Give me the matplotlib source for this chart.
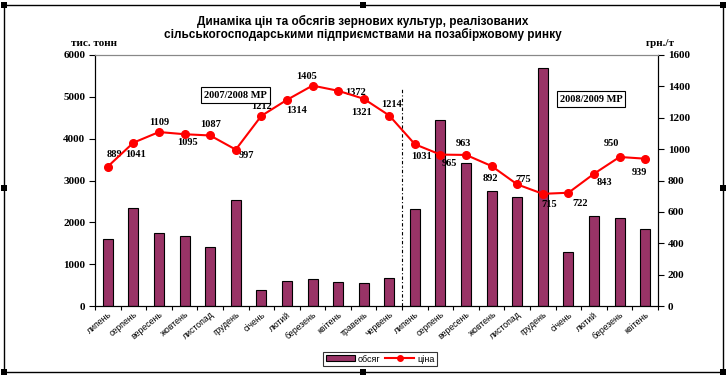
import numpy as np
import matplotlib.pyplot as plt
from matplotlib.lines import Line2D
from matplotlib.patches import Rectangle, Patch

months = ['липень', 'серпень', 'вересень', 'жовтень', 'листопад', 'грудень',
          'січень', 'лютий', 'березень', 'квітень', 'травень', 'червень',
          'липень', 'серпень', 'вересень', 'жовтень', 'листопад', 'грудень',
          'січень', 'лютий', 'березень', 'квітень']
volume = [1600, 2340, 1740, 1670, 1410, 2530, 380, 600, 650, 570, 550, 670,
          2330, 4450, 3420, 2760, 2600, 5700, 1300, 2150, 2100, 1840]
price = [889, 1041, 1109, 1095, 1087, 997, 1212, 1314, 1405, 1372, 1321, 1214,
         1031, 965, 963, 892, 775, 715, 722, 843, 950, 939]

# label offsets in pixels (dx, dy; dy positive = down)
offs = [(7, -12), (2, 12), (0, -10), (3, 8), (0, -11), (11, 6), (0, -9), (10, 11),
        (-6, -9), (17, 2), (-2, 14), (2, -11), (7, 12), (9, 9), (-3, -11), (-1, 12),
        (6, -5), (6, 11), (12, 11), (10, 9), (-8, -13), (-6, 14)]

W, H = 727, 376
serif = 'Liberation Serif'
sans = 'Liberation Sans'

fig = plt.figure(figsize=(W / 100, H / 100), dpi=100)
L, R, T, B = 95, 658, 55, 306
ax = fig.add_axes([L / W, 1 - B / H, (R - L) / W, (B - T) / H])
ax2 = ax.twinx()

x = np.arange(len(months))
ax.bar(x, volume, width=0.39, color='#993366', edgecolor='black', linewidth=0.8, zorder=2)
ax.set_xlim(-0.5, len(months) - 0.5)
ax.set_ylim(0, 6000)
ax.set_yticks(range(0, 6001, 1000))
ax.set_xticks(x)
ax.set_xticklabels(months, rotation=40, ha='right', va='top', rotation_mode='anchor',
                   fontsize=6.3, family=sans)
ax.set_xticks(np.arange(-0.5, len(months), 1), minor=True)
ax.tick_params(axis='x', which='major', length=0, pad=3)
ax.tick_params(axis='x', which='minor', length=3, width=0.8, direction='out')
ax.tick_params(axis='y', length=4, width=0.8, pad=3)
for lab in ax.get_yticklabels():
    lab.set_family(serif)
    lab.set_fontweight('bold')
    lab.set_fontsize(8)

ax.plot([11.5, 11.5], [0, 5200], color='black', lw=0.8, ls=(0, (3, 2, 1, 2)), zorder=3)

ax2.plot(x, price, color='red', lw=1.5, marker='o', markersize=5.5, zorder=4)
ax2.set_ylim(0, 1600)
ax2.set_yticks(range(0, 1601, 200))
ax2.tick_params(axis='y', length=4, width=0.8, pad=3)
for lab in ax2.get_yticklabels():
    lab.set_family(serif)
    lab.set_fontweight('bold')
    lab.set_fontsize(8)

for i, v in enumerate(price):
    dx, dy = offs[i]
    ax2.annotate(str(v), (i, v), xytext=(dx * 0.72, -dy * 0.72), textcoords='offset points',
                 ha='center', va='center', fontsize=7.5, family=serif, fontweight='bold')

for a in (ax, ax2):
    a.spines['top'].set_color('#888888')
    a.spines['left'].set_linewidth(0.8)
    a.spines['right'].set_linewidth(0.8)
    a.spines['bottom'].set_linewidth(0.8)

def fx(px):
    return px / W

def fy(py):
    return 1 - py / H

fig.text(fx(363), fy(21), 'Динаміка цін та обсягів зернових культур, реалізованих',
         ha='center', va='center', fontsize=8.5, family=sans, fontweight='bold')
fig.text(fx(363), fy(34), 'сільськогосподарськими підприємствами на позабіржовому ринку',
         ha='center', va='center', fontsize=8.5, family=sans, fontweight='bold')
fig.text(fx(94), fy(43), 'тис. тонн', ha='center', va='center', fontsize=8,
         family=serif, fontweight='bold')
fig.text(fx(660), fy(43), 'грн./т', ha='center', va='center', fontsize=8,
         family=serif, fontweight='bold')

box = dict(boxstyle='square,pad=0.3', fc='white', ec='black', lw=0.8)
fig.text(fx(235), fy(95), '2007/2008 МР', ha='center', va='center', fontsize=7.5,
         family=serif, fontweight='bold', bbox=box)
fig.text(fx(591), fy(99), '2008/2009 МР', ha='center', va='center', fontsize=7.5,
         family=serif, fontweight='bold', bbox=box)

handles = [Patch(facecolor='#993366', edgecolor='black', lw=0.8),
           Line2D([], [], color='red', lw=1.5, marker='o', markersize=4)]
leg = fig.legend(handles, ['обсяг', 'ціна'], loc='center', bbox_to_anchor=(fx(380), fy(359)),
                 ncol=2, frameon=True, fancybox=False, handlelength=3.2,
                 handleheight=0.6, borderpad=0.25, columnspacing=0.6, handletextpad=0.3,
                 prop={'family': sans, 'size': 6.5})
leg.get_frame().set_edgecolor('black')
leg.get_frame().set_linewidth(0.8)

# outer frame with selection handles
fig.add_artist(Rectangle((fx(4), fy(372)), fx(723) - fx(4), fy(5) - fy(372),
                         transform=fig.transFigure, fill=False, ec='black', lw=1.0))
for hx in (4, 363, 723):
    for hy in (5, 188, 372):
        if hx == 363 and hy == 188:
            continue
        fig.add_artist(Rectangle((fx(hx - 3), fy(hy + 3)), fx(6), 6 / H,
                                 transform=fig.transFigure, fc='black', ec='none'))

fig.savefig('out.png', dpi=100)
